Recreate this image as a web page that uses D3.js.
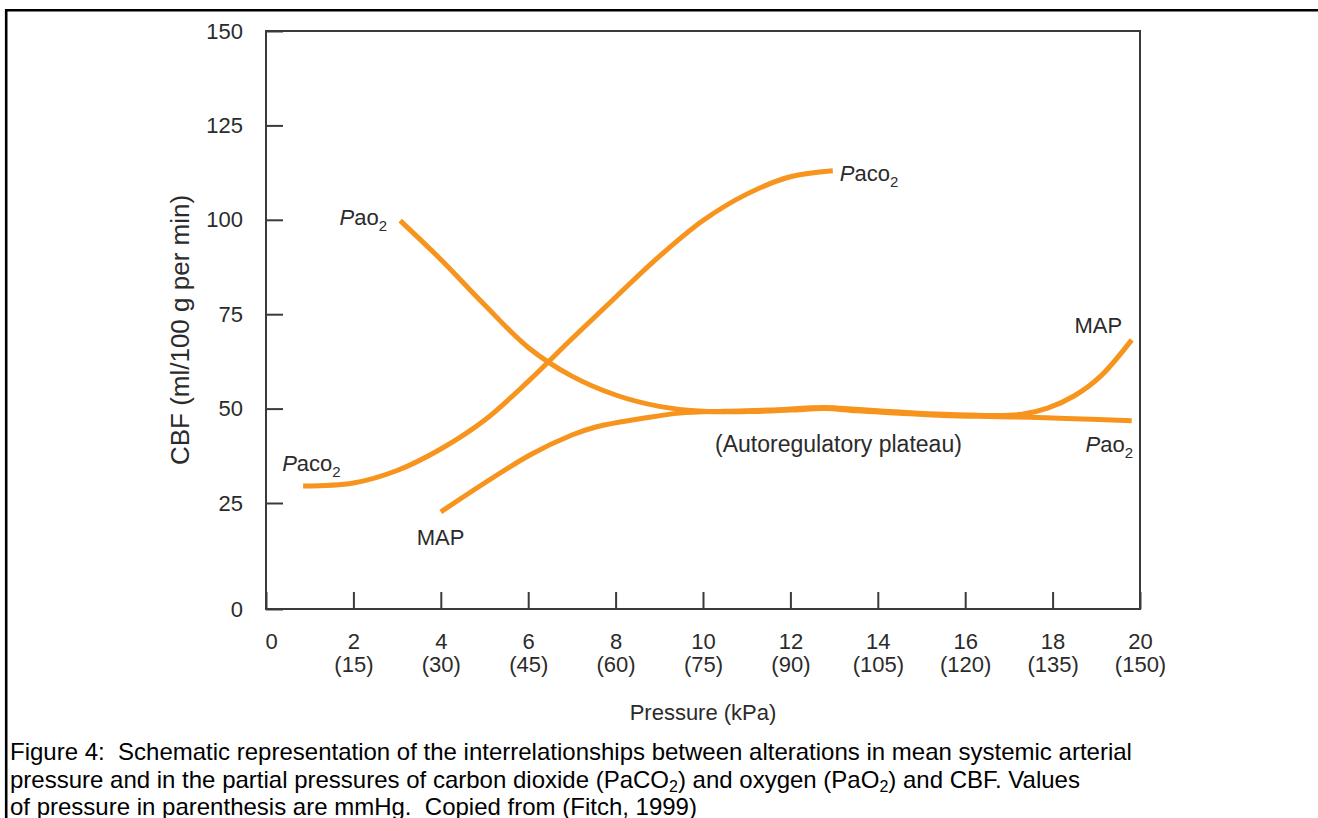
<!DOCTYPE html>
<html><head><meta charset="utf-8">
<script src="https://cdn.jsdelivr.net/npm/d3@7"></script>
<style>
html,body{margin:0;padding:0;background:#fff;}
svg{display:block;font-family:"Liberation Sans",Arial,Helvetica,sans-serif;}
text{white-space:pre;}
</style></head><body>
<svg id="chart" width="1318" height="818"></svg>
<script>
// ---- data ----
const xTicks = [0, 2, 4, 6, 8, 10, 12, 14, 16, 18, 20];
const xTickMmHg = ["", "(15)", "(30)", "(45)", "(60)", "(75)", "(90)", "(105)", "(120)", "(135)", "(150)"];
const yTicks = [0, 25, 50, 75, 100, 125, 150];

const paco2X = [0.85, 2, 3, 4, 5, 6, 7, 8, 9, 10, 11, 12, 12.97];
const paco2Y = [29.5, 30.3, 33.6, 39.3, 46.9, 57.2, 68.5, 79.5, 90.3, 99.8, 106.8, 111.4, 113];

const pao2X = [3.07, 4, 5, 6, 7, 8, 9, 10, 11, 12, 12.8, 13.5, 14.5, 15.5, 16.5, 17.5, 18.5, 19.81];
const pao2Y = [99.8, 89.5, 77.5, 66.2, 58.6, 53.6, 50.6, 49.3, 49.2, 49.6, 50.0, 49.4, 48.8, 48.2, 47.9, 47.7, 47.3, 46.8];

const mapX = [4.0, 6.04, 7.0, 7.57, 8.71, 9.47, 10.5, 11.5, 12.8, 13.5, 14.5, 15.5, 16.5, 17.3, 17.9, 18.5, 19.1, 19.81];
const mapY = [22.9, 37.7, 43.0, 45.2, 47.6, 48.8, 49.3, 49.6, 50.3, 49.8, 49.1, 48.5, 48.2, 48.5, 50.2, 53.4, 58.6, 68.2];

const labelText = ["Pao2", "Paco2", "Paco2", "MAP", "MAP", "Pao2", "(Autoregulatory plateau)"];
const labelX = [2.77, 13.13, 0.37, 3.45, 19.59, 19.84, 13.1];
const labelY = [98.6, 110.3, 33.5, 15.1, 70, 38.5, 38.5];
const labelAnchor = ["end", "start", "start", "start", "end", "end", "middle"];

const xTitle = "Pressure (kPa)";
const yTitle = "CBF (ml/100 g per min)";

// ---- layout ----
const svg = d3.select("#chart");
const x = d3.scaleLinear().domain([0, 20]).range([266, 1140]);
const y = d3.scaleLinear().domain([0, 25, 150]).range([609, 503, 31]);
const orange = "#f7941d";
const axisCol = "#3a3a3a";
const textCol = "#2b2b2b";

// outer figure border (top + left)
svg.append("line").attr("x1", 5).attr("x2", 1318).attr("y1", 10.3).attr("y2", 10.3)
  .attr("stroke", "#000").attr("stroke-width", 2.6);
svg.append("line").attr("x1", 6.2).attr("x2", 6.2).attr("y1", 9).attr("y2", 818)
  .attr("stroke", "#000").attr("stroke-width", 2.6);

// axes
const yAxis = d3.axisLeft(y).tickValues(yTicks).tickSize(-17).tickPadding(23);
const gy = svg.append("g").attr("transform", `translate(${x(0)},0)`).call(yAxis);
gy.select(".domain").remove();
gy.selectAll(".tick line").attr("stroke", axisCol).attr("stroke-width", 2);
gy.selectAll(".tick text").attr("font-size", 22).attr("fill", textCol)
  .attr("font-family", "Liberation Sans, Arial, sans-serif");

const xAxis = d3.axisBottom(x).tickValues(xTicks).tickSize(-17).tickPadding(24)
  .tickFormat(d => String(d));
const gx = svg.append("g").attr("transform", `translate(0,${y(0)})`).call(xAxis);
gx.select(".domain").remove();
gx.selectAll(".tick line").attr("stroke", axisCol).attr("stroke-width", 2);
gx.selectAll(".tick text").attr("font-size", 22).attr("fill", textCol)
  .attr("font-family", "Liberation Sans, Arial, sans-serif")
  .each(function(d, i) {
    const t = d3.select(this);
    t.text(null);
    t.append("tspan").attr("x", i === 0 ? 5 : 0).text(String(d));
    if (xTickMmHg[i]) t.append("tspan").attr("x", 0).attr("dy", "1.05em").text(xTickMmHg[i]);
  });

// plot frame
svg.append("rect").attr("x", x(0)).attr("y", y(150))
  .attr("width", x(20) - x(0)).attr("height", y(0) - y(150))
  .attr("fill", "none").attr("stroke", axisCol).attr("stroke-width", 2);

// curves
const line = d3.line().x(d => x(d[0])).y(d => y(d[1])).curve(d3.curveCatmullRom.alpha(0.5));
const series = [[paco2X, paco2Y], [pao2X, pao2Y], [mapX, mapY]];
series.forEach(([xs, ys]) => {
  svg.append("path").datum(xs.map((v, i) => [v, ys[i]]))
    .attr("d", line).attr("fill", "none").attr("stroke", orange)
    .attr("stroke-width", 5).attr("stroke-linecap", "butt").attr("stroke-linejoin", "round");
});

// annotations
labelText.forEach((txt, i) => {
  const t = svg.append("text").attr("x", x(labelX[i])).attr("y", y(labelY[i]))
    .attr("text-anchor", labelAnchor[i]).attr("font-size", i === 6 ? 23 : 22).attr("fill", textCol);
  const m = txt.match(/^P(a[a-z]*)2$/);
  if (m) {
    t.append("tspan").attr("font-style", "italic").text("P");
    t.append("tspan").text(m[1]);
    t.append("tspan").attr("font-size", 15).attr("dy", 6).text("2");
  } else {
    t.text(txt);
  }
});

// axis titles
svg.append("text").attr("x", (x(0) + x(20)) / 2).attr("y", 720).attr("text-anchor", "middle")
  .attr("font-size", 22).attr("fill", textCol).text(xTitle);
svg.append("text").attr("transform", `translate(189,330) rotate(-90)`)
  .attr("text-anchor", "middle").attr("font-size", 26).attr("fill", textCol).text(yTitle);

// caption
const cap = svg.append("g").attr("font-size", 24).attr("fill", "#000");
cap.append("text").attr("x", 10).attr("y", 760)
  .text("Figure 4:  Schematic representation of the interrelationships between alterations in mean systemic arterial");
const l2 = cap.append("text").attr("x", 10).attr("y", 788);
l2.append("tspan").text("pressure and in the partial pressures of carbon dioxide (PaCO");
l2.append("tspan").attr("font-size", 16).attr("dy", 4).text("2");
l2.append("tspan").attr("dy", -4).text(") and oxygen (PaO");
l2.append("tspan").attr("font-size", 16).attr("dy", 4).text("2");
l2.append("tspan").attr("dy", -4).text(") and CBF. Values");
cap.append("text").attr("x", 10).attr("y", 815)
  .text("of pressure in parenthesis are mmHg.  Copied from (Fitch, 1999)");
</script>
</body></html>
